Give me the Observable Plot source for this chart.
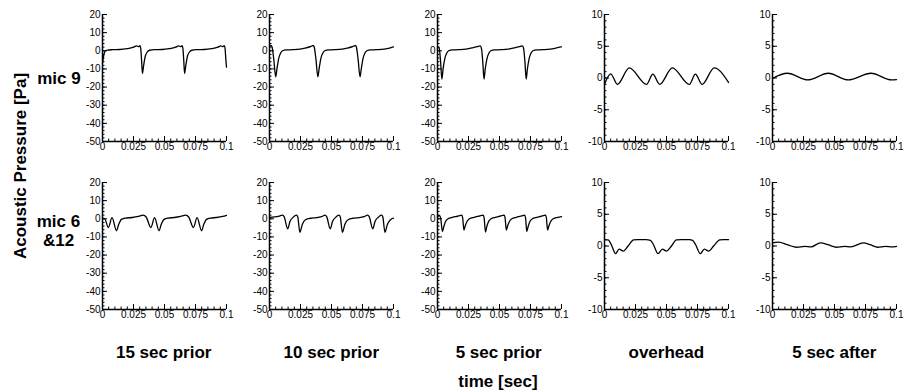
<!DOCTYPE html>
<html>
<head>
<meta charset="utf-8">
<script src="https://cdn.jsdelivr.net/npm/d3@7"></script>
<script src="https://cdn.jsdelivr.net/npm/@observablehq/plot@0.6"></script>
<style>
  body { margin: 0; background: #fff; }
  #fig { position: relative; width: 905px; height: 392px; overflow: hidden;
         font-family: "Liberation Sans", Arial, Helvetica, sans-serif; background: #fff; }
  .panel { position: absolute; }
  .lbl { position: absolute; font-weight: bold; font-size: 17px; color: #000;
         white-space: nowrap; line-height: 19px; text-align: center;
         transform: translate(-50%, -50%); }
</style>
</head>
<body>
<div id="fig"></div>
<script>
// Column and row headings
const stages = ["15 sec prior", "10 sec prior", "5 sec prior", "overhead", "5 sec after"];
const mics = ["mic 9", "mic 6<br>&amp;12"];
const yTitle = "Acoustic Pressure [Pa]";
const xTitle = "time [sec]";

// Axis ticks
const xTicks = [0, 0.025, 0.05, 0.075, 0.1];
const yTicksWide = [20, 10, 0, -10, -20, -30, -40, -50];
const yTicksNarrow = [10, 5, 0, -5, -10];

// Acoustic pressure traces, [time (s), pressure (Pa)]
// mic 9
const mic9_15prior = [[0,-7],[0.001,-2.5],[0.002,-0.3],[0.004,0.4],[0.008,0.6],[0.014,0.7],[0.02,1.2],[0.025,2.0],[0.0275,2.7],[0.029,2.3],[0.0302,2.8],[0.0308,1.5],[0.0315,-5],[0.0322,-12.5],[0.0332,-8],[0.0345,-3],[0.036,-0.8],[0.038,0.3],[0.042,0.6],[0.048,0.7],[0.054,1.2],[0.059,2.0],[0.0615,2.7],[0.063,2.3],[0.0642,2.8],[0.0648,1.5],[0.0655,-5],[0.0662,-12.5],[0.0672,-8],[0.0685,-3],[0.07,-0.8],[0.072,0.3],[0.076,0.6],[0.082,0.7],[0.088,1.2],[0.093,2.0],[0.0955,2.7],[0.097,2.3],[0.0982,2.8],[0.0988,1.5],[0.0995,-5],[0.1,-9]];
const mic9_10prior = [[0,2.5],[0.0012,2.9],[0.002,2.2],[0.0035,-5],[0.005,-14.4],[0.006,-10],[0.0075,-4],[0.009,-1.2],[0.0105,0],[0.0135,0.5],[0.0185,0.6],[0.0245,0.9],[0.0295,1.6],[0.0335,2.4],[0.0352,2.9],[0.036,2.2],[0.0375,-5],[0.039,-14.4],[0.04,-10],[0.0415,-4],[0.043,-1.2],[0.0445,0],[0.0475,0.5],[0.0525,0.6],[0.0585,0.9],[0.0635,1.6],[0.0675,2.4],[0.0692,2.9],[0.07,2.2],[0.0715,-5],[0.073,-14.4],[0.074,-10],[0.0755,-4],[0.077,-1.2],[0.0785,0],[0.0815,0.5],[0.0865,0.6],[0.0925,0.9],[0.0975,1.6],[0.1,2.1]];
const mic9_5prior = [[0,1.5],[0.0008,2.2],[0.0015,1.0],[0.0025,-6],[0.0035,-15.6],[0.0045,-10],[0.006,-4],[0.0075,-1.2],[0.009,0],[0.012,0.5],[0.017,0.6],[0.023,0.9],[0.028,1.6],[0.032,2.3],[0.0345,2.7],[0.0355,1.0],[0.0365,-6],[0.0375,-15.6],[0.0385,-10],[0.04,-4],[0.0415,-1.2],[0.043,0],[0.046,0.5],[0.051,0.6],[0.057,0.9],[0.062,1.6],[0.066,2.3],[0.0685,2.7],[0.0695,1.0],[0.0705,-6],[0.0715,-15.6],[0.0725,-10],[0.074,-4],[0.0755,-1.2],[0.077,0],[0.08,0.5],[0.085,0.6],[0.091,0.9],[0.096,1.6],[0.1,2.2]];
const mic9_overhead = [[0,-1.0],[0.005,0.65],[0.0104,-1.0],[0.02,1.6],[0.0339,-1.0],[0.039,0.6],[0.0445,-1.0],[0.0547,1.6],[0.0685,-1.0],[0.0733,0.6],[0.0787,-1.0],[0.0885,1.6],[0.1,-0.7]];
const mic9_5after = [[0,-0.05],[0.012,0.75],[0.0285,-0.3],[0.045,0.75],[0.061,-0.3],[0.0795,0.75],[0.096,-0.3],[0.1,-0.25]];
// mics 6 & 12
const mic6_15prior = [[0,0.3],[0.0018,0.0],[0.0047,-4.8],[0.0077,0.6],[0.0113,-6.6],[0.0131,-3],[0.0153,-0.3],[0.0185,0.4],[0.024,0.7],[0.029,1.3],[0.0328,2.0],[0.0352,1.0],[0.039,-4.8],[0.042,0.6],[0.0456,-6.6],[0.0474,-3],[0.0496,-0.3],[0.0528,0.4],[0.058,0.7],[0.063,1.3],[0.0671,2.0],[0.0695,1.0],[0.0733,-4.8],[0.0763,0.6],[0.0799,-6.6],[0.0817,-3],[0.0839,-0.3],[0.0871,0.4],[0.092,0.7],[0.097,1.3],[0.1,1.9]];
const mic6_10prior = [[0,0.8],[0.004,1.0],[0.008,1.5],[0.0105,2.0],[0.0118,1.2],[0.0147,-5.5],[0.0165,-1.5],[0.019,0.8],[0.0218,2.0],[0.0228,1.0],[0.0245,-7.5],[0.0265,-3],[0.029,-0.5],[0.033,0.3],[0.038,0.6],[0.042,1.2],[0.0448,2.0],[0.0461,1.2],[0.049,-5.5],[0.0508,-1.5],[0.0533,0.8],[0.0561,2.0],[0.0571,1.0],[0.0588,-7.5],[0.0608,-3],[0.0633,-0.5],[0.0673,0.3],[0.0723,0.6],[0.0763,1.2],[0.0791,2.0],[0.0804,1.2],[0.0833,-5.5],[0.0851,-1.5],[0.0876,0.8],[0.0904,2.0],[0.0914,1.0],[0.0931,-7.5],[0.0951,-3],[0.0976,-0.5],[0.1,0.3]];
const mic6_5prior = [[0,1.0],[0.0015,1.8],[0.0025,0.5],[0.004,-7.0],[0.005,-4.5],[0.0065,-1.5],[0.0085,0.0],[0.012,0.8],[0.016,1.4],[0.0195,2.0],[0.0203,0.5],[0.0213,-6.3],[0.0223,-4],[0.0238,-1.5],[0.0258,0.0],[0.0295,0.8],[0.033,1.4],[0.0368,2.0],[0.0376,0.5],[0.0387,-7.3],[0.0397,-4.5],[0.0412,-1.5],[0.0432,0.0],[0.0465,0.8],[0.05,1.4],[0.0537,2.0],[0.0545,0.5],[0.0555,-6.3],[0.0565,-4],[0.058,-1.5],[0.06,0.0],[0.0635,0.8],[0.067,1.4],[0.0702,2.0],[0.071,0.5],[0.072,-7.0],[0.073,-4.5],[0.0745,-1.5],[0.0765,0.0],[0.08,0.8],[0.0835,1.4],[0.087,2.0],[0.0878,0.5],[0.0888,-6.3],[0.0898,-4],[0.0913,-1.5],[0.0933,0.0],[0.097,0.8],[0.1,1.2]];
const mic6_overhead = [[0,1.0],[0.003,0.95],[0.0055,0.2],[0.009,-1.2],[0.0117,-0.5],[0.0152,-0.8],[0.019,0.0],[0.0235,0.95],[0.027,1.0],[0.0335,1.0],[0.037,0.9],[0.0395,0.2],[0.0432,-1.2],[0.0467,-0.5],[0.0499,-0.8],[0.054,0.0],[0.058,0.95],[0.062,1.0],[0.0685,1.0],[0.071,0.9],[0.0735,0.2],[0.0773,-1.2],[0.0805,-0.5],[0.084,-0.8],[0.088,0.0],[0.093,0.95],[0.096,1.0],[0.1,1.0]];
const mic6_5after = [[0,0.5],[0.0048,0.6],[0.012,0.2],[0.0195,-0.2],[0.026,-0.05],[0.031,-0.15],[0.0387,0.5],[0.045,0.2],[0.0515,-0.2],[0.058,-0.05],[0.063,-0.15],[0.0733,0.5],[0.079,0.2],[0.0848,-0.2],[0.091,-0.05],[0.0965,-0.15],[0.1,-0.05]];

const rows = [
  [mic9_15prior, mic9_10prior, mic9_5prior, mic9_overhead, mic9_5after],
  [mic6_15prior, mic6_10prior, mic6_5prior, mic6_overhead, mic6_5after]
];

// Page geometry of the small multiples
const colX = [101.7, 269.3, 436.7, 604.3, 772.3];   // left axis of each column
const rowY = [14, 182];                              // top of each plotting frame
const innerW = 124, innerH = 127;
const mL = 34, mR = 14, mT = 8, mB = 18;

const fig = document.getElementById("fig");

function panel(series, wide) {
  const yDomain = wide ? [-50, 20] : [-10, 10];
  const yTicks = wide ? yTicksWide : yTicksNarrow;
  const yMinor = d3.range(yDomain[0], yDomain[1] + 1e-9, wide ? 2 : 1);
  const xMinor = d3.range(0, 0.1 + 1e-9, 0.005);
  return Plot.plot({
    width: mL + innerW + mR,
    height: mT + innerH + mB,
    marginLeft: mL, marginRight: mR, marginTop: mT, marginBottom: mB,
    x: {domain: [0, 0.1]},
    y: {domain: yDomain},
    style: {fontFamily: '"Liberation Sans", Arial, sans-serif', fontSize: "10px",
            color: "#000", background: "transparent", overflow: "visible"},
    marks: [
      // inward minor and major ticks
      Plot.tickX(xMinor, {x: d => d, insetTop: innerH - 2.5, stroke: "#000", strokeWidth: 1}),
      Plot.tickX(xTicks, {x: d => d, insetTop: innerH - 5, stroke: "#000", strokeWidth: 1}),
      Plot.tickY(yMinor, {y: d => d, insetRight: innerW - 2.5, stroke: "#000", strokeWidth: 1}),
      Plot.tickY(yTicks, {y: d => d, insetRight: innerW - 5, stroke: "#000", strokeWidth: 1}),
      // axis lines
      Plot.ruleX([0], {stroke: "#000", strokeWidth: 1.5}),
      Plot.ruleY([yDomain[0]], {stroke: "#000", strokeWidth: 1.5}),
      // tick labels
      Plot.axisX(xTicks, {tickSize: 0, tickPadding: 1, tickFormat: d => String(d), label: null, fill: "#000"}),
      Plot.axisY(yTicks, {tickSize: 0, tickPadding: 2, tickFormat: d => String(d), label: null, fill: "#000"}),
      // pressure trace
      Plot.line(series, {x: d => d[0], y: d => d[1], curve: "monotone-x",
                         stroke: "#000", strokeWidth: 1.3})
    ]
  });
}

rows.forEach((row, r) => {
  row.forEach((series, c) => {
    const svg = panel(series, c < 3);
    svg.classList.add("panel");
    svg.style.left = (colX[c] - mL) + "px";
    svg.style.top = (rowY[r] - mT) + "px";
    fig.appendChild(svg);
  });
});

function label(html, x, y, extra) {
  const d = document.createElement("div");
  d.className = "lbl";
  d.innerHTML = html;
  d.style.left = x + "px";
  d.style.top = y + "px";
  if (extra) d.style.transform = extra;
  fig.appendChild(d);
}

label(mics[0], 59, 78);
label(mics[1], 58.5, 231);
label(yTitle, 20, 166, "translate(-50%, -50%) rotate(-90deg)");
stages.forEach((s, c) => label(s, colX[c] + innerW / 2, 352));
label(xTitle, 498, 381);
</script>
</body>
</html>
